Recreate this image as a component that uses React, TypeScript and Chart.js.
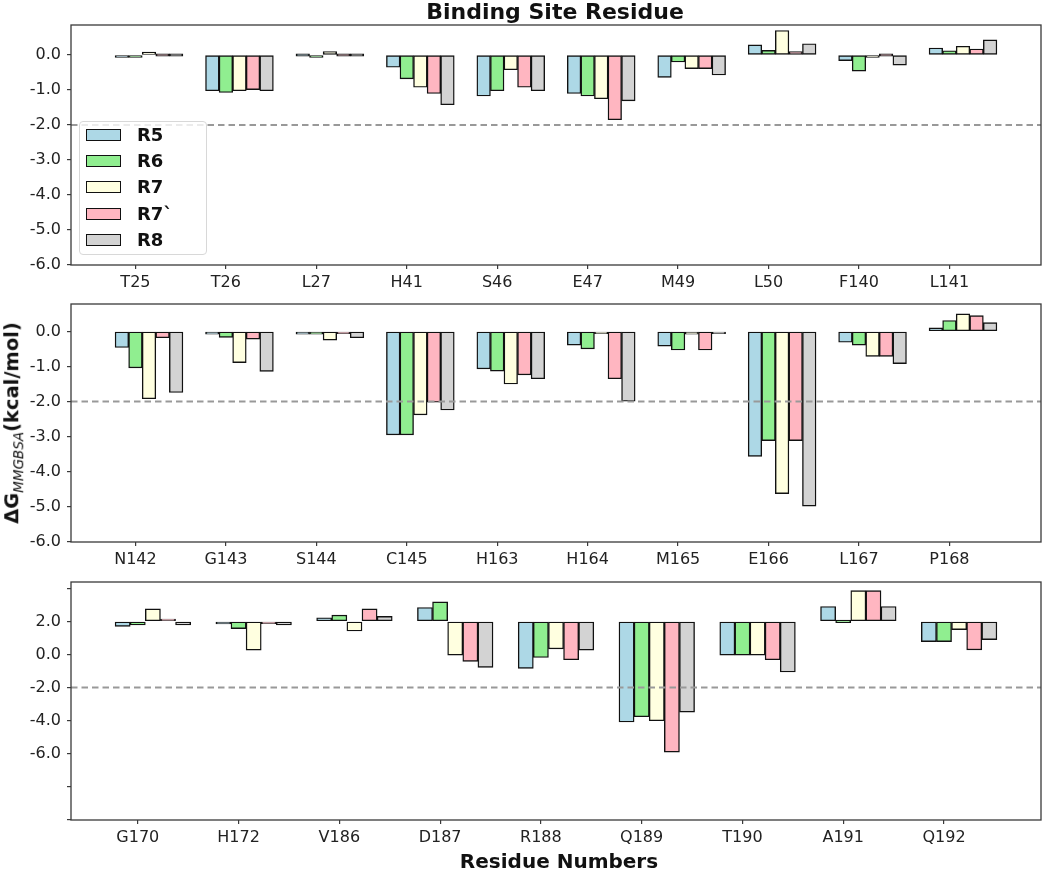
import React, { useEffect, useRef } from 'react';
import { Chart, registerables } from 'chart.js';

Chart.register(...registerables);

// series and colours (matplotlib named colours)
const SERIES = ['R5', 'R6', 'R7', 'R7`', 'R8'];
const COLORS = ['#add8e6', '#90ee90', '#ffffe0', '#ffb6c1', '#d3d3d3'];

// panel 1
const residues1 = ['T25', 'T26', 'L27', 'H41', 'S46', 'E47', 'M49', 'L50', 'F140', 'L141'];
const p1R5 = [-0.04, -1.02, 0.0, -0.35, -1.17, -1.1, -0.64, 0.29, -0.16, 0.2];
const p1R6 = [-0.04, -1.07, -0.03, -0.68, -1.02, -1.17, -0.2, 0.13, -0.46, 0.12];
const p1R7 = [0.08, -1.02, 0.1, -0.92, -0.42, -1.25, -0.39, 0.7, -0.07, 0.25];
const p1R7b = [0.0, -0.99, 0.0, -1.1, -0.92, -1.85, -0.39, 0.1, 0.0, 0.17];
const p1R8 = [0.0, -1.02, 0.0, -1.42, -1.02, -1.31, -0.57, 0.32, -0.29, 0.43];

// panel 2
const residues2 = ['N142', 'G143', 'S144', 'C145', 'H163', 'H164', 'M165', 'E166', 'L167', 'P168'];
const p2R5 = [-0.46, -0.08, -0.08, -2.95, -1.07, -0.39, -0.42, -3.56, -0.31, 0.1];
const p2R6 = [-1.04, -0.17, -0.08, -2.95, -1.13, -0.5, -0.53, -3.11, -0.39, 0.31];
const p2R7 = [-1.92, -0.89, -0.25, -2.38, -1.5, -0.06, -0.08, -4.62, -0.71, 0.5];
const p2R7b = [-0.18, -0.22, -0.05, -2.02, -1.24, -1.35, -0.53, -3.11, -0.71, 0.45];
const p2R8 = [-1.74, -1.14, -0.18, -2.24, -1.35, -1.99, -0.03, -4.98, -0.92, 0.25];

// panel 3
const residues3 = ['G170', 'H172', 'V186', 'D187', 'R188', 'Q189', 'T190', 'A191', 'Q192'];
const p3R5 = [-0.15, -0.08, 0.11, 0.42, -1.42, -3.04, -1.02, 0.45, -0.61];
const p3R6 = [-0.11, -0.22, 0.19, 0.59, -1.09, -2.88, -1.02, 0.0, -0.61];
const p3R7 = [0.38, -0.87, -0.29, -1.02, -0.83, -3.0, -1.02, 0.93, -0.25];
const p3R7b = [0.04, -0.03, 0.38, -1.21, -1.16, -3.95, -1.16, 0.93, -0.86];
const p3R8 = [-0.11, -0.11, 0.15, -1.39, -0.87, -2.74, -1.53, 0.45, -0.55];

// y ticks
const yTicks12 = [-6, -5, -4, -3, -2, -1, 0];
const yLabels12 = ['-6.0', '-5.0', '-4.0', '-3.0', '-2.0', '-1.0', '0.0'];
const yTicks3 = [-6, -5, -4, -3, -2, -1, 0, 1];
const yLabels3 = ['', '', '-6.0', '-4.0', '-2.0', '0.0', '2.0', ''];

const THRESHOLD = -2;
const BAR_W = 0.15;

const FONT = 'DejaVu Sans';
const AXIS_COLOR = '#3a3a3a';

const framePlugin = {
  id: 'frame',
  afterDatasetsDraw(chart: any) {
    const { ctx, chartArea, scales } = chart;
    const y = scales.y.getPixelForValue(THRESHOLD);
    ctx.save();
    ctx.strokeStyle = '#999';
    ctx.lineWidth = 2;
    ctx.setLineDash([6.5, 4]);
    ctx.beginPath();
    ctx.moveTo(chartArea.left, y);
    ctx.lineTo(chartArea.right, y);
    ctx.stroke();
    ctx.restore();
  },
  afterDraw(chart: any) {
    const { ctx, chartArea } = chart;
    ctx.save();
    ctx.strokeStyle = AXIS_COLOR;
    ctx.lineWidth = 1.3;
    ctx.strokeRect(chartArea.left, chartArea.top, chartArea.right - chartArea.left, chartArea.bottom - chartArea.top);
    ctx.restore();
  },
};

interface PanelProps {
  top: number;
  height: number;
  residues: string[];
  values: number[][];
  yMax: number;
  yTicks: number[];
  yLabels: string[];
}

const Panel: React.FC<PanelProps> = ({ top, height, residues, values, yMax, yTicks, yLabels }) => {
  const canvasRef = useRef<HTMLCanvasElement>(null);

  useEffect(() => {
    if (!canvasRef.current) return;
    const n = residues.length;
    const lo = -1.5 * BAR_W;
    const hi = n - 1 + 3.5 * BAR_W;
    const margin = (hi - lo) * 0.05;

    const chart = new Chart(canvasRef.current, {
      type: 'bar',
      data: {
        datasets: SERIES.map((name, k) => ({
          label: name,
          data: values[k].map((v, i) => ({ x: i + (k - 1) * BAR_W, y: v })),
          backgroundColor: COLORS[k],
          borderColor: '#111',
          borderWidth: 1.4,
          borderSkipped: false,
          grouped: false,
          barPercentage: 1,
          categoryPercentage: 1,
          minBarLength: 2.4,
        })),
      },
      options: {
        responsive: false,
        animation: false,
        layout: { padding: { top: 20, right: 11, left: 0, bottom: 0 } },
        plugins: {
          legend: { display: false },
          tooltip: { enabled: false },
        },
        scales: {
          x: {
            type: 'linear',
            offset: false,
            min: lo - margin,
            max: hi + margin,
            afterBuildTicks: (s: any) => {
              s.ticks = residues.map((_, i) => ({ value: i }));
            },
            afterFit: (s: any) => {
              s.height = 30;
            },
            ticks: {
              callback: (_v: any, i: number) => residues[i],
              autoSkip: false,
              maxRotation: 0,
              padding: 4,
              color: '#222',
              font: { family: FONT, size: 16 },
            },
            grid: { offset: false, drawOnChartArea: false, tickLength: 4, color: AXIS_COLOR, lineWidth: 1.2 },
            border: { display: false },
          },
          y: {
            min: -6,
            max: yMax,
            afterBuildTicks: (s: any) => {
              s.ticks = yTicks.map((v) => ({ value: v }));
            },
            afterFit: (s: any) => {
              s.width = 71;
            },
            ticks: {
              callback: (_v: any, i: number) => yLabels[i],
              padding: 6,
              color: '#222',
              font: { family: FONT, size: 16 },
            },
            grid: { drawOnChartArea: false, tickLength: 4, color: AXIS_COLOR, lineWidth: 1.2 },
            border: { display: false },
          },
        },
      } as any,
      plugins: [framePlugin],
    });

    return () => {
      chart.destroy();
    };
  }, []);

  return (
    <canvas
      ref={canvasRef}
      width={1052}
      height={height}
      style={{ position: 'absolute', left: 0, top, width: 1052, height }}
    />
  );
};

const Legend: React.FC = () => (
  <div
    style={{
      position: 'absolute',
      left: 79,
      top: 121,
      width: 126,
      height: 132,
      border: '1px solid #d8d8d8',
      borderRadius: 4,
      background: 'rgba(255,255,255,0.8)',
    }}
  >
    {SERIES.map((name, k) => (
      <div key={name} style={{ display: 'flex', alignItems: 'center', height: 26.2 }}>
        <div
          style={{
            marginLeft: 6,
            width: 33,
            height: 10,
            background: COLORS[k],
            border: '1.4px solid #111',
          }}
        />
        <div style={{ marginLeft: 16, font: `bold 18px "${FONT}"`, color: '#111', lineHeight: 1 }}>{name}</div>
      </div>
    ))}
  </div>
);

const App: React.FC = () => {
  return (
    <div style={{ position: 'fixed', left: 0, top: 0, width: 1052, height: 869, background: '#fff', overflow: 'hidden' }}>
      <Panel
        top={5}
        height={290}
        residues={residues1}
        values={[p1R5, p1R6, p1R7, p1R7b, p1R8]}
        yMax={0.857}
        yTicks={yTicks12}
        yLabels={yLabels12}
      />
      <Panel
        top={284}
        height={288}
        residues={residues2}
        values={[p2R5, p2R6, p2R7, p2R7b, p2R8]}
        yMax={0.78}
        yTicks={yTicks12}
        yLabels={yLabels12}
      />
      <Panel
        top={562}
        height={288}
        residues={residues3}
        values={[p3R5, p3R6, p3R7, p3R7b, p3R8]}
        yMax={1.19}
        yTicks={yTicks3}
        yLabels={yLabels3}
      />
      <Legend />
      <div
        style={{
          position: 'absolute',
          left: 555,
          top: 1,
          transform: 'translateX(-50%)',
          font: `bold 22px "${FONT}"`,
          lineHeight: 1,
          whiteSpace: 'nowrap',
          color: '#111',
        }}
      >
        Binding Site Residue
      </div>
      <div
        style={{
          position: 'absolute',
          left: 559,
          top: 851,
          transform: 'translateX(-50%)',
          font: `bold 20px "${FONT}"`,
          lineHeight: 1,
          whiteSpace: 'nowrap',
          color: '#111',
        }}
      >
        Residue Numbers
      </div>
      <div
        style={{
          position: 'absolute',
          left: 12,
          top: 423,
          transform: 'translate(-50%, -50%) rotate(-90deg)',
          font: `bold 19.5px "${FONT}"`,
          lineHeight: 1,
          whiteSpace: 'nowrap',
          color: '#111',
        }}
      >
        ΔG
        <sub style={{ fontStyle: 'italic', fontWeight: 'normal', fontSize: 13.5, lineHeight: 0 }}>MMGBSA</sub>
        (kcal/mol)
      </div>
    </div>
  );
};

export default App;
